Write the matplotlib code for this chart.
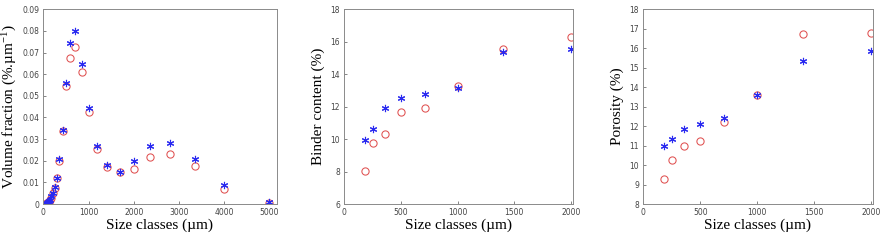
import matplotlib
matplotlib.use("Agg")
import matplotlib.pyplot as plt

plt.rcParams["mathtext.fontset"] = "custom"
plt.rcParams["mathtext.rm"] = "Liberation Serif"
plt.rcParams["mathtext.it"] = "Liberation Serif:italic"
plt.rcParams["mathtext.default"] = "rm"

# Panel 1: volume fraction vs size classes
size1 = [45, 53, 63, 75, 90, 106, 125, 150, 180, 212, 250, 300, 355, 425, 500,
         600, 710, 850, 1000, 1180, 1400, 1700, 2000, 2360, 2800, 3350, 4000, 5000]
vf_blue = [0.0000, 0.00005, 0.0001, 0.0002, 0.0004, 0.0007, 0.0012, 0.0020, 0.0035,
           0.0052, 0.0077, 0.0119, 0.0206, 0.0342, 0.0561, 0.0743, 0.0801, 0.0647,
           0.0445, 0.0270, 0.0180, 0.0149, 0.0199, 0.0270, 0.0280, 0.0206, 0.0088, 0.0008]
vf_red = [0.0000, 0.00005, 0.0001, 0.0002, 0.0004, 0.0007, 0.0010, 0.0018, 0.0030,
          0.0050, 0.0075, 0.0119, 0.0200, 0.0339, 0.0545, 0.0673, 0.0727, 0.0610,
          0.0427, 0.0254, 0.0173, 0.0149, 0.0162, 0.0216, 0.0233, 0.0177, 0.0071, 0.0006]

# Panels 2 and 3
size2 = [180, 250, 355, 500, 710, 1000, 1400, 2000]
binder_blue = [9.95, 10.60, 11.90, 12.55, 12.78, 13.13, 15.35, 15.55]
binder_red = [8.01, 9.78, 10.29, 11.65, 11.90, 13.29, 15.55, 16.29]
por_blue = [11.00, 11.36, 11.84, 12.13, 12.43, 13.58, 15.36, 15.86]
por_red = [9.27, 10.28, 10.98, 11.25, 12.21, 13.58, 16.73, 16.80]

W, H = 885, 244
fig = plt.figure(figsize=(W / 100, H / 100), dpi=100)

serif = ["Liberation Serif", "DejaVu Serif"]
tick_col = "#555555"

def make_ax(l, r, t, b):
    return fig.add_axes([l / W, 1 - b / H, (r - l) / W, (b - t) / H])

axes = [make_ax(43.3, 276.7, 9.3, 204), make_ax(344.3, 573.3, 9.3, 204),
        make_ax(643.3, 872.7, 9.3, 204)]

star = (6, 2, 0)
def plot_pair(ax, x, yb, yr):
    ax.plot(x, yr, linestyle="none", marker="o", markersize=5.2, markerfacecolor="none",
            markeredgecolor="#e05050", markeredgewidth=0.75)
    ax.plot(x, yb, linestyle="none", marker=star, markersize=5.2, color="#2a2af0",
            markeredgewidth=0.8)

plot_pair(axes[0], size1, vf_blue, vf_red)
plot_pair(axes[1], size2, binder_blue, binder_red)
plot_pair(axes[2], size2, por_blue, por_red)

axes[0].set_xlim(0, 5160)
axes[0].set_ylim(0, 0.09)
axes[0].set_xticks([0, 1000, 2000, 3000, 4000, 5000])
axes[0].set_yticks([0, 0.01, 0.02, 0.03, 0.04, 0.05, 0.06, 0.07, 0.08, 0.09])
axes[0].set_yticklabels(["0", "0.01", "0.02", "0.03", "0.04", "0.05", "0.06", "0.07", "0.08", "0.09"])
axes[0].set_ylabel("Volume fraction (%.µm$^{-1}$)", family=serif, fontsize=11, labelpad=2)

axes[1].set_xlim(0, 2020)
axes[1].set_ylim(6, 18)
axes[1].set_xticks([0, 500, 1000, 1500, 2000])
axes[1].set_yticks([6, 8, 10, 12, 14, 16, 18])
axes[1].set_ylabel("Binder content (%)", family=serif, fontsize=11, labelpad=4)

axes[2].set_xlim(0, 2015)
axes[2].set_ylim(8, 18)
axes[2].set_xticks([0, 500, 1000, 1500, 2000])
axes[2].set_yticks(list(range(8, 19)))
axes[2].set_ylabel("Porosity (%)", family=serif, fontsize=11, labelpad=4)

for ax in axes:
    ax.set_xlabel("Size classes (µm)", family=serif, fontsize=11, labelpad=1)
    ax.tick_params(direction="in", length=2.5, width=0.5, labelsize=5.5,
                   colors=tick_col, labelcolor="#444444", pad=3)
    for s in ax.spines.values():
        s.set_color("#8a8a8a")
        s.set_linewidth(0.7)

fig.savefig("out.png", dpi=100)
